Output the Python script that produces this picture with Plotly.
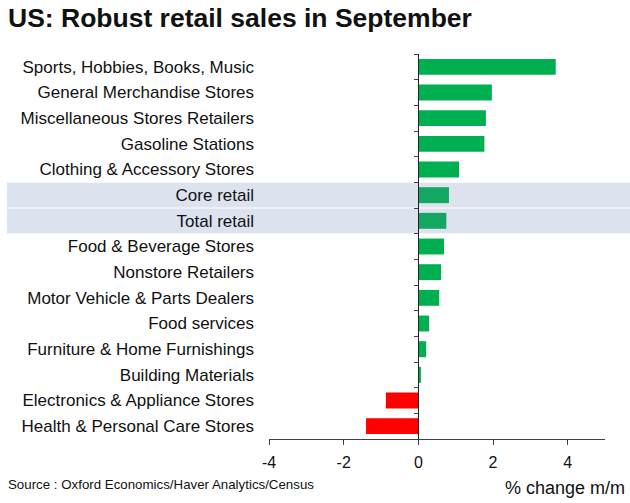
import plotly.graph_objects as go

categories = [
    "Sports, Hobbies, Books, Music",
    "General Merchandise Stores",
    "Miscellaneous Stores Retailers",
    "Gasoline Stations",
    "Clothing & Accessory Stores",
    "Core retail",
    "Total retail",
    "Food & Beverage Stores",
    "Nonstore Retailers",
    "Motor Vehicle & Parts Dealers",
    "Food services",
    "Furniture & Home Furnishings",
    "Building Materials",
    "Electronics & Appliance Stores",
    "Health & Personal Care Stores",
]
values = [3.68, 1.97, 1.81, 1.77, 1.09, 0.82, 0.75, 0.69, 0.61, 0.56, 0.29, 0.21, 0.07, -0.87, -1.40]
highlighted = ["Core retail", "Total retail"]
x_ticks = [-4, -2, 0, 2, 4]
x_tick_labels = ["-4", "-2", "0", "2", "4"]
x_range = [-4, 5]

GREEN = "#00b050"
GREEN_HL = "#12a862"
RED = "#ff0000"
BAND = "#dce3ef"
TXT = "#111111"

W, H = 630, 503
L, R, T, B = 269, 25, 54, 64

colors = []
for c, v in zip(categories, values):
    if v < 0:
        colors.append(RED)
    elif c in highlighted:
        colors.append(GREEN_HL)
    else:
        colors.append(GREEN)

n = len(categories)
fig = go.Figure()
fig.add_trace(go.Bar(
    x=values, y=categories, orientation="h",
    marker=dict(color=colors, line=dict(width=0)),
    hoverinfo="x+y", showlegend=False,
))
# invisible trace to host the zero axis with boundary ticks
fig.add_trace(go.Scatter(x=[0], y=[0], yaxis="y2", mode="markers",
                         marker=dict(opacity=0), hoverinfo="skip", showlegend=False))

plot_w = W - L - R
plot_h = H - T - B
zero_frac = (0 - x_range[0]) / (x_range[1] - x_range[0])

shapes = []
for c in highlighted:
    i = categories.index(c)
    shapes.append(dict(type="rect", xref="paper", yref="y",
                       x0=(7 - L) / plot_w, x1=(W - L) / plot_w,
                       y0=i - 0.48, y1=i + 0.48,
                       fillcolor=BAND, line=dict(width=0), layer="below"))

fig.update_layout(
    width=W, height=H,
    margin=dict(l=L, r=R, t=T, b=B, pad=0),
    paper_bgcolor="white", plot_bgcolor="white",
    font=dict(family="Liberation Sans, Arial, sans-serif", color=TXT, size=16),
    bargap=0.38,
    xaxis=dict(range=x_range, tickvals=x_ticks, ticktext=x_tick_labels,
               ticks="outside", ticklen=5,
               tickcolor="#404040", showline=True, linecolor="#404040", linewidth=1,
               showgrid=False, zeroline=False, tickfont=dict(size=16),
               ticklabelstandoff=4, fixedrange=True),
    yaxis=dict(type="category", categoryorder="array", categoryarray=categories,
               range=[n - 0.5, -0.5], showline=False, ticks="", showgrid=False,
               zeroline=False, tickfont=dict(size=17), ticklabelstandoff=14,
               fixedrange=True),
    yaxis2=dict(overlaying="y", anchor="free", position=zero_frac,
                range=[-0.5, n - 0.5], tick0=-0.5, dtick=1, ticks="outside",
                ticklen=4, tickcolor="#404040", showline=True, linecolor="#202020",
                linewidth=1, showticklabels=False, showgrid=False, zeroline=False,
                fixedrange=True),
    shapes=shapes,
    annotations=[
        dict(text="<b>US: Robust retail sales in September</b>", xref="paper", yref="paper",
             x=(6 - L) / plot_w, y=1 + (T - 18) / plot_h, xanchor="left", yanchor="middle",
             showarrow=False, font=dict(size=26.5, color=TXT)),
        dict(text="Source : Oxford Economics/Haver Analytics/Census", xref="paper", yref="paper",
             x=(6 - L) / plot_w, y=-(484 - (H - B)) / plot_h, xanchor="left", yanchor="middle",
             showarrow=False, font=dict(size=13.3, color=TXT)),
        dict(text="% change m/m", xref="paper", yref="paper",
             x=(627 - L) / plot_w, y=-(488 - (H - B)) / plot_h, xanchor="right", yanchor="middle",
             showarrow=False, font=dict(size=18, color=TXT)),
    ],
)

fig.write_html("out.html", config={"displayModeBar": False},
               post_script="document.body.style.margin='0';document.body.style.padding='0';")
